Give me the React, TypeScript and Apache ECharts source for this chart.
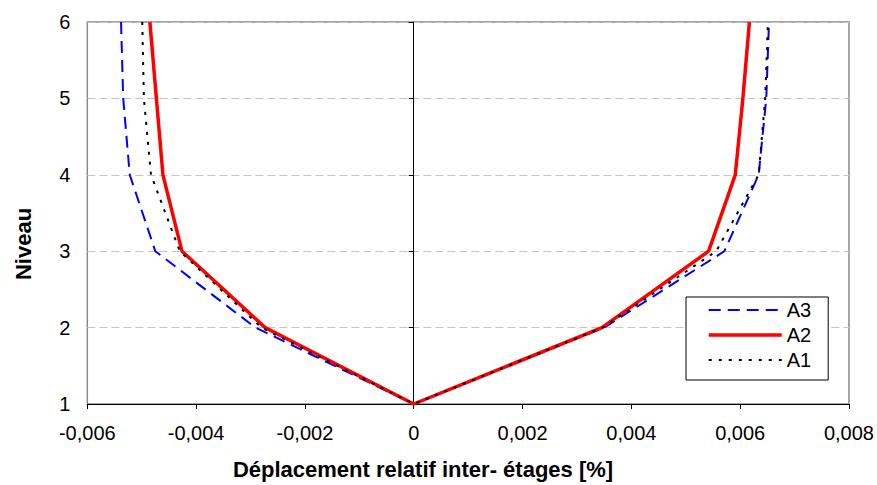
import React, { useEffect, useRef } from "react";
import * as echarts from "echarts";

// Levels (floors)
const levelsLeft = [6, 5, 4, 3, 2, 1];
const levelsRight = [2, 3, 4, 5, 6];

// Inter-storey drift values
const a3Left = [-0.00538, -0.00534, -0.00522, -0.00475, -0.00291, 0];
const a3Right = [0.0035, 0.00571, 0.00634, 0.00648, 0.00653];

const a2Left = [-0.00485, -0.00473, -0.00461, -0.00426, -0.00273, 0];
const a2Right = [0.00346, 0.00542, 0.00591, 0.00605, 0.00617];

const a1Left = [-0.00499, -0.00496, -0.00483, -0.0043, -0.0028, 0];
const a1Right = [0.00347, 0.00556, 0.00634, 0.00646, 0.00651];

const seriesNames = ["A3", "A2", "A1"];
const xTitle = "Déplacement relatif inter- étages [%]";
const yTitle = "Niveau";

const FONT = '"Liberation Sans", Arial, Helvetica, sans-serif';

function build(left: number[], right: number[]) {
  return [
    ...left.map((x, i) => [x, levelsLeft[i]]),
    ...right.map((x, i) => [x, levelsRight[i]]),
  ];
}

export default function App() {
  const ref = useRef<HTMLDivElement>(null);

  useEffect(() => {
    if (!ref.current) return;
    const chart = echarts.init(ref.current, undefined, { renderer: "svg" });

    const styles = [
      { color: "#0000ff", width: 2, type: [12, 7] as number[] },
      { color: "#ff0000", width: 3.5, type: "solid" as any },
      { color: "#000000", width: 2, type: [3, 7] as number[] },
    ];
    const datas = [build(a3Left, a3Right), build(a2Left, a2Right), build(a1Left, a1Right)];

    chart.setOption({
      animation: false,
      backgroundColor: "#ffffff",
      grid: {
        left: 87.3,
        right: 28,
        top: 22,
        bottom: 81,
        show: true,
        borderColor: "#8a8a8a",
        borderWidth: 1.5,
        backgroundColor: "transparent",
      },
      xAxis: {
        type: "value",
        min: -0.006,
        max: 0.008,
        interval: 0.002,
        axisLine: { show: true, onZero: false, lineStyle: { color: "#000", width: 1 } },
        axisTick: { show: true, length: 5, lineStyle: { color: "#000" } },
        splitLine: { show: false },
        axisLabel: {
          margin: 19,
          fontSize: 20,
          fontFamily: FONT,
          color: "#000",
          formatter: (v: number) =>
            Math.abs(v) < 1e-12 ? "0" : v.toFixed(3).replace(".", ","),
        },
      },
      yAxis: [
        {
          type: "value",
          position: "left",
          min: 1,
          max: 6,
          interval: 1,
          axisLine: { show: false, onZero: false },
          axisTick: { show: false },
          splitLine: {
            show: true,
            lineStyle: { color: "#c4c4c4", width: 1, type: [8, 4] },
          },
          axisLabel: {
            margin: 17,
            fontSize: 20,
            fontFamily: FONT,
            color: "#000",
          },
        },
        {
          type: "value",
          position: "left",
          min: 1,
          max: 6,
          interval: 1,
          axisLine: { show: true, onZero: true, lineStyle: { color: "#000", width: 1 } },
          axisTick: { show: true, length: 5, lineStyle: { color: "#000" } },
          splitLine: { show: false },
          axisLabel: { show: false },
        },
      ],
      legend: {
        orient: "vertical",
        left: 686,
        top: 297,
        backgroundColor: "#ffffff",
        borderColor: "#000000",
        borderWidth: 1,
        borderRadius: 0,
        padding: [3, 17, 10, 21],
        itemWidth: 73,
        itemHeight: 14,
        itemGap: 5,
        textStyle: { fontSize: 20, fontFamily: FONT, color: "#000", lineHeight: 20 },
        data: seriesNames.map((n, i) => ({
          name: n,
          itemStyle: {
            color: "rgba(0,0,0,0)",
            borderColor: "rgba(0,0,0,0)",
            borderWidth: 0,
            opacity: 0,
          },
          lineStyle: { color: styles[i].color, width: styles[i].width, type: styles[i].type },
        })),
      },
      graphic: [
        {
          type: "text",
          x: 23,
          y: 244,
          rotation: Math.PI / 2,
          style: {
            text: yTitle,
            fontSize: 22,
            fontWeight: "bold",
            fontFamily: FONT,
            fill: "#000",
            align: "center",
            verticalAlign: "middle",
            textAlign: "center",
            textVerticalAlign: "middle",
          },
        },
        {
          type: "text",
          x: 423,
          y: 469,
          style: {
            text: xTitle,
            fontSize: 22,
            fontWeight: "bold",
            fontFamily: FONT,
            fill: "#000",
            align: "center",
            verticalAlign: "middle",
            textAlign: "center",
            textVerticalAlign: "middle",
          },
        },
      ],
      series: seriesNames.map((n, i) => ({
        name: n,
        type: "line",
        symbol: "none",
        showSymbol: false,
        yAxisIndex: 0,
        data: datas[i],
        lineStyle: { color: styles[i].color, width: styles[i].width, type: styles[i].type },
        itemStyle: { color: styles[i].color },
        z: 3 + i,
      })),
    });

    return () => chart.dispose();
  }, []);

  return (
    <div
      ref={ref}
      style={{ position: "fixed", left: 0, top: 0, width: 877, height: 485, background: "#fff" }}
    />
  );
}
